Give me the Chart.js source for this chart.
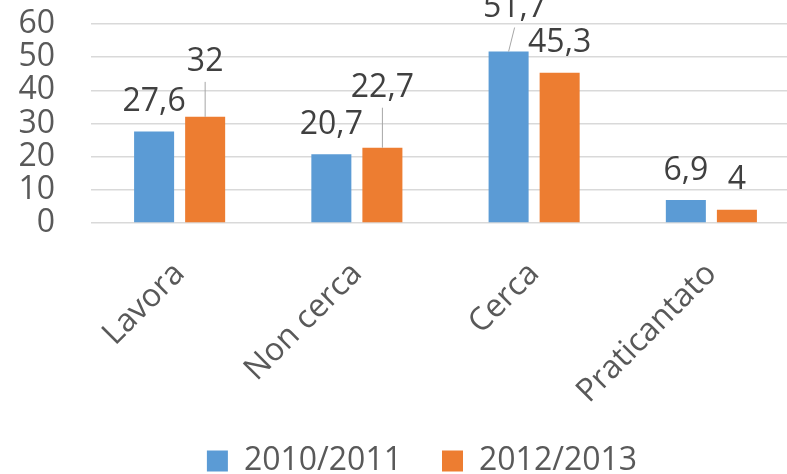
<!DOCTYPE html>
<html>
<head>
<meta charset="utf-8">
<script src="https://cdn.jsdelivr.net/npm/chart.js@4/dist/chart.umd.min.js"></script>
<style>
    html, body { margin: 0; padding: 0; background: #fff; overflow: hidden; }
    #wrap { position: relative; width: 844px; height: 474px; }
</style>
</head>
<body>
<div id="wrap"><canvas id="myBarChart" width="844" height="474"></canvas></div>
<script>
var categories = ['Lavora', 'Non cerca', 'Cerca', 'Praticantato'];
var seriesNames = ['2010/2011', '2012/2013'];
var values2010 = [27.6, 20.7, 51.7, 6.9];
var values2012 = [32, 22.7, 45.3, 4];
var yTicks = [0, 10, 20, 30, 40, 50, 60];

var fontFamily = '"Open Sans", sans-serif';
var labelGap = 32; // distance from bar top to label centre
// labels that were dragged away from their bar, [dx, dy] by "dataset-index"
var labelMoves = { '1-0': [0, -25], '1-1': [0, -30], '0-2': [6, -14] };

function formatComma(v) {
    return String(v).replace('.', ',');
}

var dataLabelPlugin = {
    id: 'dataLabels',
    afterLayout: function(chart) {
        // legend is centred on the wider original frame, and sits a bit lower
        chart.legend.left += 13;
        chart.legend.right += 13;
        chart.legend.top += 13;
        chart.legend.bottom += 13;
        // let the rotated category labels run into the legend band
        chart.scales.x.bottom = chart.height;
    },
    afterDatasetsDraw: function(chart) {
        var ctx = chart.ctx;
        ctx.save();
        ctx.font = '32px ' + fontFamily;
        ctx.textAlign = 'center';
        ctx.textBaseline = 'alphabetic';
        chart.data.datasets.forEach(function(ds, di) {
            var meta = chart.getDatasetMeta(di);
            meta.data.forEach(function(bar, i) {
                var move = labelMoves[di + '-' + i] || [0, 0];
                var cx = bar.x + move[0];
                var cy = bar.y - labelGap + move[1];
                if (move[1] !== 0) {
                    // leader line back to the bar
                    ctx.strokeStyle = '#a6a6a6';
                    ctx.lineWidth = 1;
                    ctx.beginPath();
                    ctx.moveTo(cx, cy + 22);
                    ctx.lineTo(bar.x, bar.y);
                    ctx.stroke();
                }
                ctx.fillStyle = '#404040';
                ctx.fillText(formatComma(ds.data[i]), cx, cy + 11.4);
            });
        });
        ctx.restore();
    }
};

var barChartData = {
    labels: categories,
    datasets: [{
        label: seriesNames[0],
        data: values2010,
        backgroundColor: '#5b9bd5',
        categoryPercentage: 0.576,
        barPercentage: 0.784
    }, {
        label: seriesNames[1],
        data: values2012,
        backgroundColor: '#ed7d31',
        categoryPercentage: 0.576,
        barPercentage: 0.784
    }]
};

var ctx = document.getElementById('myBarChart').getContext('2d');
new Chart(ctx, {
    type: 'bar',
    data: barChartData,
    plugins: [dataLabelPlugin],
    options: {
        responsive: false,
        animation: false,
        devicePixelRatio: 1,
        layout: {
            padding: { left: 18, right: 44, top: 24, bottom: 0 }
        },
        plugins: {
            tooltip: { enabled: false },
            legend: {
                position: 'bottom',
                labels: {
                    boxWidth: 21,
                    boxHeight: 21,
                    padding: 40,
                    color: '#595959',
                    font: { family: fontFamily, size: 32 }
                }
            }
        },
        scales: {
            x: {
                grid: { display: false },
                border: { display: false },
                afterFit: function(scale) {
                    scale.height = 169;
                },
                ticks: {
                    maxRotation: 45,
                    minRotation: 45,
                    padding: 24,
                    color: '#595959',
                    font: { family: fontFamily, size: 32 }
                }
            },
            y: {
                min: yTicks[0],
                max: yTicks[yTicks.length - 1],
                afterBuildTicks: function(scale) {
                    scale.ticks = yTicks.map(function(v) { return { value: v }; });
                },
                afterFit: function(scale) {
                    scale.width = 73;
                    scale.paddingTop = 0;
                    scale.paddingBottom = 0;
                },
                grid: { color: '#d9d9d9', lineWidth: 1.5, drawTicks: false },
                border: { display: false },
                ticks: {
                    autoSkip: false,
                    padding: 36,
                    color: '#595959',
                    font: { family: fontFamily, size: 32 }
                }
            }
        }
    }
});
</script>
</body>
</html>
